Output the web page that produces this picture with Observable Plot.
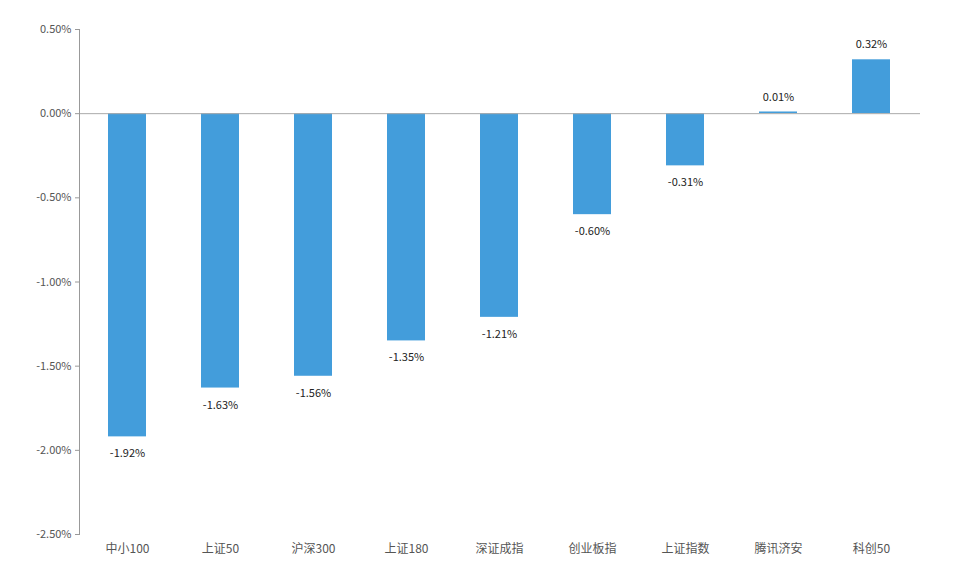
<!DOCTYPE html>
<html>
<head>
<meta charset="utf-8">
<script src="https://cdn.jsdelivr.net/npm/d3@7"></script>
<script src="https://cdn.jsdelivr.net/npm/@observablehq/plot@0.6"></script>
<style>
  html, body { margin: 0; padding: 0; background: #fff; }
  #chart { width: 961px; height: 571px; }
</style>
</head>
<body>
<div id="chart"></div>
<script>
const categories = ["中小100", "上证50", "沪深300", "上证180", "深证成指", "创业板指", "上证指数", "腾讯济安", "科创50"];
const values = [-1.92, -1.63, -1.56, -1.35, -1.21, -0.60, -0.31, 0.01, 0.32];
const yTicks = [0.5, 0, -0.5, -1.0, -1.5, -2.0, -2.5];

const data = categories.map((c, i) => ({ name: c, value: values[i] }));
const fmt = d => d.toFixed(2) + "%";
const font = "'Noto Sans CJK SC', 'Noto Sans', sans-serif";

const chart = Plot.plot({
  width: 961,
  height: 571,
  marginTop: 29,
  marginBottom: 37,
  marginLeft: 79,
  marginRight: 41,
  style: { fontFamily: font, background: "#fff" },
  x: { domain: categories, paddingInner: 0.59, paddingOuter: 0.295, label: null },
  y: { domain: [-2.5, 0.5], label: null },
  marks: [
    Plot.barY(data, { x: "name", y: "value", fill: "#439ddb" }),
    Plot.ruleY([0], { stroke: "#aaa", strokeWidth: 1 }),
    Plot.frame({ anchor: "left", stroke: "#999" }),
    Plot.axisY({ ticks: yTicks, tickFormat: fmt, tickSize: 4, tickPadding: 4, stroke: "#999", fill: "#555", fontSize: 11, label: null }),
    Plot.axisX({ tickSize: 0, tickPadding: 10, fill: "#555", fontSize: 12, label: null }),
    Plot.text(data.filter(d => d.value < 0), { x: "name", y: "value", text: d => fmt(d.value), dy: 17, fill: "#222", fontSize: 11 }),
    Plot.text(data.filter(d => d.value >= 0), { x: "name", y: "value", text: d => fmt(d.value), dy: -15, fill: "#222", fontSize: 11 })
  ]
});
document.getElementById("chart").appendChild(chart);
</script>
</body>
</html>
